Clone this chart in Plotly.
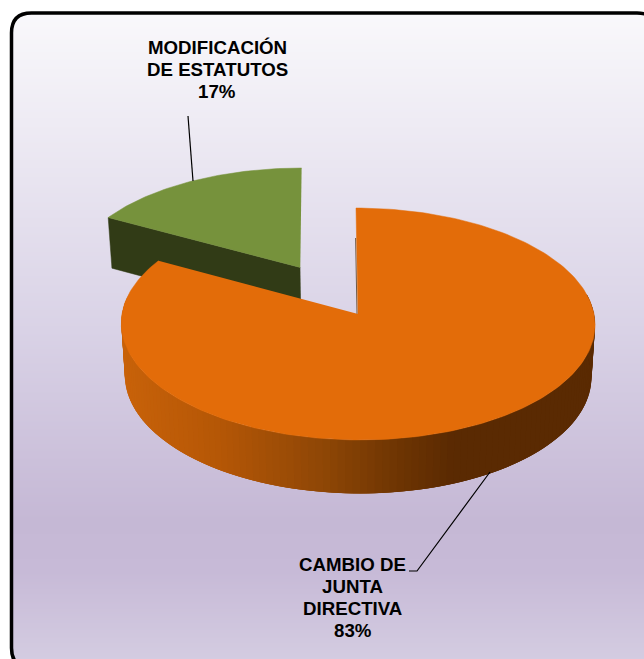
"""Pie 3D: tramites por tipo, drawn on pixel axes because plotly has no 3D pie."""

import numpy as np
import plotly.graph_objects as go

# data
categories = ["CAMBIO DE JUNTA DIRECTIVA", "MODIFICACIÓN DE ESTATUTOS"]
percentages = [83, 17]
label_lines = [
    ["CAMBIO DE", "JUNTA", "DIRECTIVA", "83%"],
    ["MODIFICACIÓN", "DE ESTATUTOS", "17%"],
]

# gradient stops of the chart area
bg_rows = [14, 330, 520, 570, 659]
bg_colors = ["#f9f8fb", "#d9d2e6", "#c5b8d5", "#c7bad7", "#d4cce1"]

WIDTH, HEIGHT = 644, 659

# pie projection
CX, CY = 358, 314
RX, RY = 236, 115.1
PERSP = 0.0862
SHEAR = -2
GREEN_SHEAR = -3
DEPTH = 52
BOTTOM_SCALE = 0.985
EXPLODE = 0.487
GREEN_RADIUS = 1.005


def project(u, v, z=0.0, shear=SHEAR):
    """Project a point of the unit disk (v points away) to pixels; z=1 is the bottom face."""
    u, v = np.asarray(u, float), np.asarray(v, float)
    w = 1 + PERSP * v
    x = CX + RX * u / w + shear * v
    y = CY - RY * v / w
    x = CX + (x - CX) * BOTTOM_SCALE**z
    y = y + z * (DEPTH - 1.5 * v)
    return x, y


def polar(theta_deg, r=1.0):
    t = np.radians(theta_deg)
    return r * np.sin(t), r * np.cos(t)


def polygon(x, y, color, edge=0.5):
    return go.Scatter(
        x=x, y=y, mode="lines", fill="toself", fillcolor=color,
        line=dict(color=color, width=edge), hoverinfo="skip", showlegend=False,
    )


def mix(stops, pos):
    xs = [s[0] for s in stops]
    chan = [np.interp(pos, xs, [s[1][i] for s in stops]) for i in range(3)]
    return "rgb(%d,%d,%d)" % tuple(chan)


def hex_rgb(c):
    return tuple(int(c[i:i + 2], 16) for i in (1, 3, 5))


# colorscale from the rows
span = bg_rows[-1] - bg_rows[0]
colorscale = [[(r - bg_rows[0]) / span, c] for r, c in zip(bg_rows, bg_colors)]
rows = np.arange(bg_rows[0], bg_rows[-1] + 1, 3)

fig = go.Figure()
fig.add_trace(
    go.Heatmap(
        x=[0, WIDTH], y=rows, z=[[r, r] for r in rows], colorscale=colorscale,
        zmin=bg_rows[0], zmax=bg_rows[-1], showscale=False, hoverinfo="skip", zsmooth="best",
    )
)

# slice angles, clockwise from north
orange_sweep = percentages[0] / sum(percentages) * 360

# green slice is pulled out along its bisector
mid = (orange_sweep + 360) / 2
ox, oy = polar(mid, EXPLODE)
arc = np.linspace(orange_sweep, 360, 60)
au, av = polar(arc, GREEN_RADIUS)
gx, gy = project(np.r_[ox, au + ox], np.r_[oy, av + oy], shear=GREEN_SHEAR)

# cut face of the green slice
fu, fv = polar(orange_sweep, GREEN_RADIUS)
ring_u = np.array([ox, fu + ox, fu + ox, ox])
ring_v = np.array([oy, fv + oy, fv + oy, oy])
ring_z = np.array([0, 0, 1, 1])
sx, sy = zip(*[project(u, v, z, GREEN_SHEAR) for u, v, z in zip(ring_u, ring_v, ring_z)])
fig.add_trace(polygon(list(sx), list(sy), "#313b16"))
fig.add_trace(polygon(gx, gy, "#76923c"))

# outer wall of the orange slice, shaded along x; strips overlap the next one to avoid seams
wall_stops = [
    (125, hex_rgb("#c8620a")),
    (220, hex_rgb("#b55706")),
    (322, hex_rgb("#8f4706")),
    (400, hex_rgb("#6e3503")),
    (455, hex_rgb("#5a2a02")),
    (600, hex_rgb("#5a2a02")),
]
edges = np.linspace(280, 80, 121)
for i in range(len(edges) - 1):
    span_arc = edges[i : i + 4]
    su, sv = polar(span_arc)
    top_x, top_y = project(su, sv)
    bot_x, bot_y = project(su, sv, 1)
    color = mix(wall_stops, top_x[:2].mean())
    fig.add_trace(
        polygon(
            np.r_[top_x, bot_x[::-1], top_x[0]],
            np.r_[top_y, bot_y[::-1], top_y[0]],
            color,
            edge=0,
        )
    )

# thin shadow on the cut edge at north
ex, ey = project(*polar(0, 0.7))
cx0, cy0 = project(0, 0)
fig.add_trace(
    go.Scatter(
        x=[cx0 - 1, ex - 1], y=[cy0, ey], mode="lines",
        line=dict(color="#6f5a45", width=1), hoverinfo="skip", showlegend=False,
    )
)

# orange top face
arc = np.linspace(0, orange_sweep, 240)
au, av = polar(arc)
tx, ty = project(np.r_[0, au], np.r_[0, av])
fig.add_trace(polygon(tx, ty, "#e36c09"))

# leader lines
for lx, ly in [([188, 193], [116, 181]), ([490, 417, 409], [472, 571, 571])]:
    fig.add_trace(
        go.Scatter(
            x=lx, y=ly, mode="lines", line=dict(color="black", width=1.2),
            hoverinfo="skip", showlegend=False,
        )
    )

# data labels, one annotation per line to keep the tight leading
label_centers = [(352.5, 564), (217, 47.5)]
for lines, (lx, ly) in zip(label_lines, label_centers):
    for i, text in enumerate(lines):
        fig.add_annotation(
            x=lx, y=ly + i * 22, text=f"<b>{text}</b>", showarrow=False,
            font=dict(family="Liberation Sans", size=18.7, color="black"),
            xanchor="center", yanchor="middle",
        )

# chart area frame: white mask outside, black rounded outline; runs off the right and bottom
L, T, R, B, C = 11.5, 13, 657, 668, 20
frame = (
    f"M{L},{T + C} Q{L},{T} {L + C},{T} L{R - C},{T} Q{R},{T} {R},{T + C} "
    f"L{R},{B - C} Q{R},{B} {R - C},{B} L{L + C},{B} Q{L},{B} {L},{B - C} Z"
)
fig.add_shape(
    type="path", path=f"M-5,-5 L{R + 5},-5 L{R + 5},{B + 5} L-5,{B + 5} Z " + frame,
    fillcolor="white", line_width=0, layer="above",
)
fig.add_shape(type="path", path=frame, line=dict(color="black", width=3.5), layer="above")

fig.update_layout(
    width=WIDTH,
    height=HEIGHT,
    margin=dict(l=0, r=0, t=0, b=0),
    paper_bgcolor="white",
    plot_bgcolor="white",
    showlegend=False,
    xaxis=dict(range=[0, WIDTH], visible=False, fixedrange=True),
    yaxis=dict(range=[HEIGHT, 0], visible=False, fixedrange=True),
)

fig.write_html(
    "out.html",
    config=dict(displayModeBar=False),
    post_script="document.body.style.margin='0';document.body.style.overflow='hidden';",
)
